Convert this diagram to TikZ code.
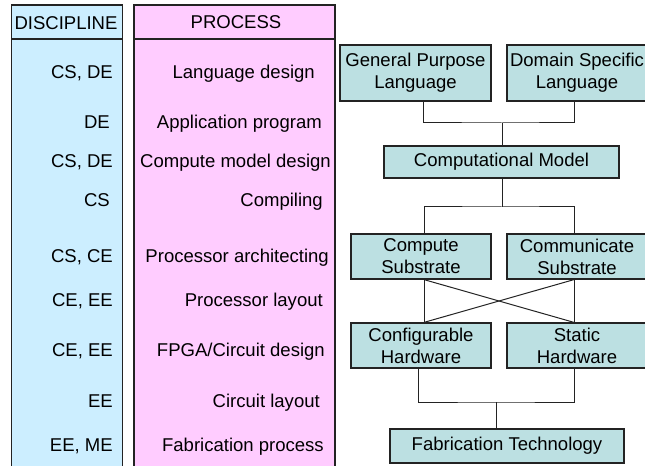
\documentclass[tikz,border=0pt]{standalone}
\usepackage{fontspec}
\setmainfont{Liberation Sans}
\definecolor{discfill}{RGB}{204,238,255}
\definecolor{procfill}{RGB}{255,204,255}
\definecolor{boxfill}{RGB}{188,224,226}
\definecolor{edge}{RGB}{35,35,35}
\begin{document}
\begin{tikzpicture}[x=1bp,y=-1bp,
  font=\fontsize{18.6}{22}\selectfont,
  colline/.style={draw=edge,line width=1.1bp},
  lbl/.style={anchor=base east,inner sep=0pt},
  hdr/.style={inner sep=0pt},
  blk/.style={draw=edge,fill=boxfill,line width=1.2bp,align=center,inner sep=0pt},
  wire/.style={draw=edge,line width=1bp}]
\useasboundingbox (0,0) rectangle (645,466);
\begin{scope}
\clip (0,0) rectangle (645,466);

% discipline column
\fill[discfill] (11.5,5) rectangle (122.5,470);
\draw[colline] (11.5,470) -- (11.5,5) -- (122.5,5) -- (122.5,470);
\draw[colline] (11.5,39) -- (122.5,39);
% process column
\fill[procfill] (134,5) rectangle (335,470);
\draw[colline] (134,470) -- (134,5) -- (335,5) -- (335,470);
\draw[colline] (134,39) -- (335,39);

\node[hdr] (dischead) at (66,23.5) {DISCIPLINE};
\node[hdr] (prochead) at (236,22.5) {PROCESS};

% disciplines
\node[lbl] (d1) at (113,78.5) {CS, DE};
\node[lbl] (d2) at (110,128.5) {DE};
\node[lbl] (d3) at (113,167.5) {CS, DE};
\node[lbl] (d4) at (110,206.5) {CS};
\node[lbl] (d5) at (113,262.5) {CS, CE};
\node[lbl] (d6) at (113,306.5) {CE, EE};
\node[lbl] (d7) at (113,356.5) {CE, EE};
\node[lbl] (d8) at (113,407.5) {EE};
\node[lbl] (d9) at (113,451.5) {EE, ME};

% processes
\node[lbl] (p1) at (315,78.5) {Language design};
\node[lbl] (p2) at (322,128.5) {Application program};
\node[lbl] (p3) at (331,167.5) {Compute model design};
\node[lbl] (p4) at (323,206.5) {Compiling};
\node[lbl] (p5) at (329,262.5) {Processor architecting};
\node[lbl] (p6) at (323,306.5) {Processor layout};
\node[lbl] (p7) at (325,356.5) {FPGA/Circuit design};
\node[lbl] (p8) at (320,407.5) {Circuit layout};
\node[lbl] (p9) at (324,451.5) {Fabrication process};

% hierarchy blocks
\node[blk,minimum width=151bp,minimum height=56bp] (gpl) at (415.5,73) {General Purpose\\Language};
\node[blk,minimum width=140bp,minimum height=56bp] (dsl) at (577,73) {Domain Specific\\Language};
\node[blk,minimum width=235bp,minimum height=32bp] (cm) at (501.5,162) {Computational Model};
\node[blk,minimum width=140bp,minimum height=45bp] (cs) at (421,256.5) {Compute\\Substrate};
\node[blk,minimum width=140bp,minimum height=45bp] (comm) at (577,256.5) {Communicate\\Substrate};
\node[blk,minimum width=140bp,minimum height=45bp] (cfg) at (421,345.5) {Configurable\\Hardware};
\node[blk,minimum width=140bp,minimum height=45bp] (st) at (577,345.5) {Static\\Hardware};
\node[blk,minimum width=234bp,minimum height=34bp] (fab) at (507,446) {Fabrication Technology};

% junction points
\coordinate (jA) at (502,123);
\coordinate (jB) at (502,207);
\coordinate (jC) at (496,402);

% connectors
\draw[wire] ([xshift=7.5bp]gpl.south) |- (jA) -| ([xshift=-3bp]dsl.south);
\draw[wire] (jA) -- (jA |- cm.north);
\draw[wire] (jB |- cm.south) -- (jB);
\draw[wire] ([xshift=3bp]cs.north) |- (jB) -| ([xshift=-3bp]comm.north);
\draw[wire] ([xshift=3bp]cs.south) -- ([xshift=3bp]cfg.north);
\draw[wire] ([xshift=3bp]cs.south) -- ([xshift=-3bp]st.north);
\draw[wire] ([xshift=-3bp]comm.south) -- ([xshift=-3bp]st.north);
\draw[wire] ([xshift=-3bp]comm.south) -- ([xshift=3bp]cfg.north);
\draw[wire] ([xshift=-3bp]cfg.south) |- (jC) -| ([xshift=-3bp]st.south);
\draw[wire] (jC) -- (jC |- fab.north);
\end{scope}
\end{tikzpicture}
\end{document}
